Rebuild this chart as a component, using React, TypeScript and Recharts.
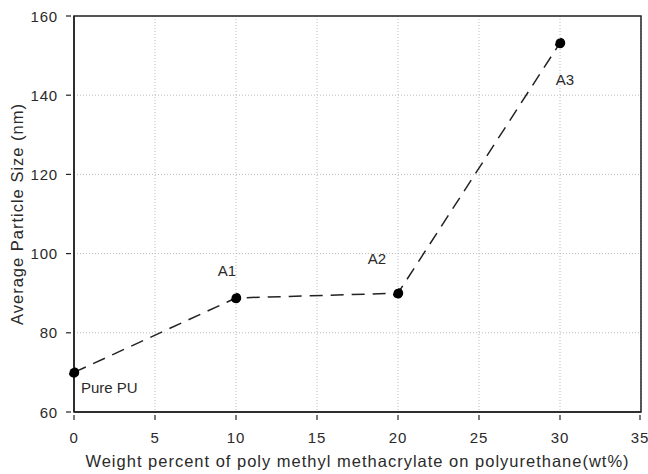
import {
  LineChart,
  Line,
  XAxis,
  YAxis,
  CartesianGrid,
  ReferenceArea,
  LabelList,
} from "recharts";

const weightPercent = [0, 10, 20, 30];
const particleSize = [70, 88.8, 90, 153.2];
const sampleNames = ["Pure PU", "A1", "A2", "A3"];
const xTicks = [0, 5, 10, 15, 20, 25, 30, 35];
const yTicks = [60, 80, 100, 120, 140, 160];

const data = weightPercent.map((w, i) => ({
  w,
  size: particleSize[i],
  name: sampleNames[i],
}));

// where each sample label sits relative to its point
const labelOffsets = [
  { dx: 7, dy: 21, anchor: "start" },
  { dx: -9, dy: -22, anchor: "middle" },
  { dx: -21, dy: -29, anchor: "middle" },
  { dx: 5, dy: 42, anchor: "middle" },
];

const FONT = "'Liberation Sans', Arial, sans-serif";
const TEXT = "#2a2a2a";

function XTick({ x, y, payload }: any) {
  return (
    <g>
      <line x1={x} x2={x} y1={y} y2={y - 5} stroke="#222" strokeWidth={1.2} />
      <text
        x={x}
        y={y + 23}
        textAnchor="middle"
        fontSize={15}
        letterSpacing={0.8}
        fill={TEXT}
        fontFamily={FONT}
      >
        {payload.value}
      </text>
    </g>
  );
}

function YTick({ x, y, payload }: any) {
  return (
    <g>
      <line x1={x} x2={x + 5} y1={y} y2={y} stroke="#222" strokeWidth={1.2} />
      <text
        x={x - 8}
        y={y + 5.5}
        textAnchor="end"
        fontSize={15}
        letterSpacing={0.8}
        fill={TEXT}
        fontFamily={FONT}
      >
        {payload.value}
      </text>
    </g>
  );
}

function PointLabel({ x, y, index, value }: any) {
  const o = labelOffsets[index];
  return (
    <text
      x={x + o.dx}
      y={y + o.dy}
      textAnchor={o.anchor}
      fontSize={15}
      fill={TEXT}
      fontFamily={FONT}
    >
      {value}
    </text>
  );
}

function XTitle({ viewBox }: any) {
  return (
    <text
      x={viewBox.x + viewBox.width / 2}
      y={467}
      textAnchor="middle"
      fontSize={16.5}
      letterSpacing={1}
      fill={TEXT}
      fontFamily={FONT}
    >
      Weight percent of poly methyl methacrylate on polyurethane(wt%)
    </text>
  );
}

function YTitle({ viewBox }: any) {
  const cx = 23;
  const cy = viewBox.y + viewBox.height / 2;
  return (
    <text
      x={cx}
      y={cy}
      transform={`rotate(-90 ${cx} ${cy})`}
      textAnchor="middle"
      fontSize={16.5}
      letterSpacing={1}
      fill={TEXT}
      fontFamily={FONT}
    >
      Average Particle Size (nm)
    </text>
  );
}

export default function App() {
  return (
    <div style={{ position: "absolute", left: 0, top: 0, background: "#fff" }}>
      <LineChart
        width={648}
        height={474}
        data={data}
        margin={{ top: 16, right: 7, bottom: 0, left: 0 }}
      >
        <CartesianGrid stroke="#bbb" strokeDasharray="1 2" />
        <XAxis
          type="number"
          dataKey="w"
          domain={[0, 35]}
          ticks={xTicks}
          height={62}
          tick={<XTick />}
          tickLine={false}
          axisLine={{ stroke: "#222", strokeWidth: 1.5 }}
          label={{ content: <XTitle /> }}
        />
        <YAxis
          type="number"
          domain={[60, 160]}
          ticks={yTicks}
          width={74}
          tick={<YTick />}
          tickLine={false}
          axisLine={{ stroke: "#222", strokeWidth: 1.5 }}
          label={{ content: <YTitle /> }}
        />
        <ReferenceArea
          x1={0}
          x2={35}
          y1={60}
          y2={160}
          fill="none"
          stroke="#222"
          strokeWidth={1.5}
        />
        <Line
          type="linear"
          dataKey="size"
          stroke="#222"
          strokeWidth={1.5}
          strokeDasharray="13 8"
          dot={{ r: 4.5, fill: "#000", stroke: "#000" }}
          isAnimationActive={false}
        >
          <LabelList dataKey="name" content={<PointLabel />} />
        </Line>
      </LineChart>
    </div>
  );
}
